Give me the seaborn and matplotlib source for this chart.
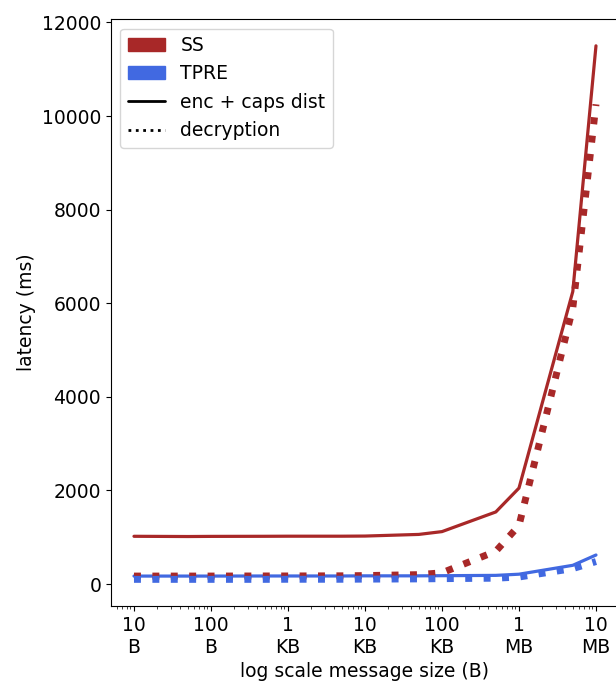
import numpy as np
import pandas as pd
import seaborn as sns
import matplotlib.pyplot as plt
from matplotlib.patches import Patch
from matplotlib.lines import Line2D

# message sizes in bytes
sizes = [10, 50, 100, 500, 1000, 5000, 10000, 50000, 100000, 500000, 1000000, 5000000, 10000000]

# latency (ms)
ss_enc = [1020, 1015, 1018, 1020, 1022, 1022, 1025, 1060, 1120, 1540, 2050, 6250, 11500]
ss_dec = [170, 170, 170, 172, 172, 175, 180, 200, 240, 700, 1250, 5900, 10250]
tpre_enc = [170, 170, 170, 172, 172, 172, 175, 175, 178, 185, 210, 400, 620]
tpre_dec = [100, 100, 100, 100, 102, 102, 105, 110, 115, 125, 150, 330, 480]

tick_vals = [10, 100, 1000, 10000, 100000, 1000000, 10000000]
tick_labels = ['10\nB', '100\nB', '1\nKB', '10\nKB', '100\nKB', '1\nMB', '10\nMB']

colors = {'SS': '#a82828', 'TPRE': '#4169e1'}

rows = []
for scheme, op, vals in [('SS', 'enc + caps dist', ss_enc),
                         ('SS', 'decryption', ss_dec),
                         ('TPRE', 'enc + caps dist', tpre_enc),
                         ('TPRE', 'decryption', tpre_dec)]:
    for s, v in zip(sizes, vals):
        rows.append({'size': s, 'latency': v, 'scheme': scheme, 'op': op})
df = pd.DataFrame(rows)

sns.set_style('ticks')
plt.rcParams['font.family'] = ['DejaVu Sans']
fs = 13.5

fig = plt.figure(figsize=(6.16, 6.84), dpi=100)
ax = fig.add_axes([0.180, 0.114, 0.825, 0.858])

# solid lines
sns.lineplot(data=df[df['op'] == 'enc + caps dist'], x='size', y='latency', hue='scheme',
             palette=colors, linewidth=2.3, legend=False, ax=ax)
# dotted lines, drawn thicker
sns.lineplot(data=df[df['op'] == 'decryption'], x='size', y='latency', hue='scheme',
             palette=colors, linewidth=5, linestyle=':', legend=False, ax=ax)

ax.set_xscale('log')
ax.set_xticks(tick_vals)
ax.set_xticklabels(tick_labels)
ax.tick_params(labelsize=fs, colors='black')
ax.set_xlabel('log scale message size (B)', fontsize=fs, color='black')
ax.set_ylabel('latency (ms)', fontsize=fs, color='black')
for sp in ax.spines.values():
    sp.set_color('black')

handles = [Patch(color=colors['SS'], label='SS'),
           Patch(color=colors['TPRE'], label='TPRE'),
           Line2D([], [], color='black', linewidth=2, label='enc + caps dist'),
           Line2D([], [], color='black', linewidth=2, linestyle=':', label='decryption')]
leg = ax.legend(handles=handles, loc='upper left', fontsize=fs)
for t in leg.get_texts():
    t.set_color('black')

fig.savefig('out.png', dpi=100)
